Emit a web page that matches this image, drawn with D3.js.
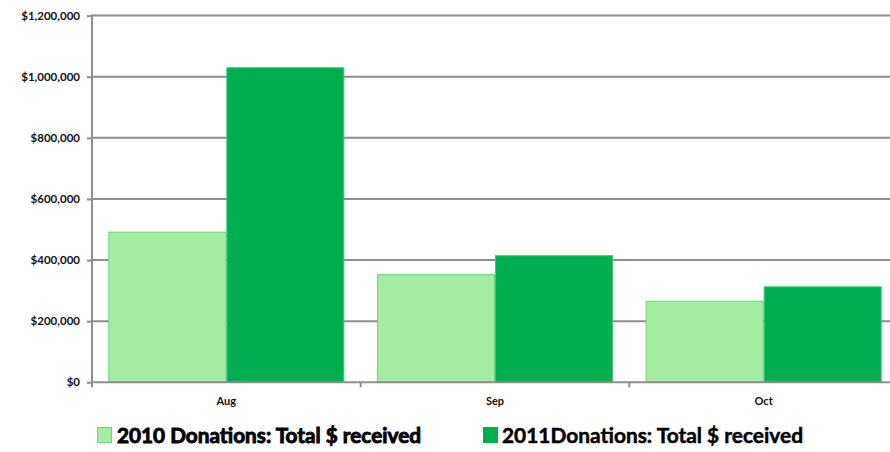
<!DOCTYPE html>
<html>
<head>
<meta charset="utf-8">
<script src="https://cdn.jsdelivr.net/npm/d3@7"></script>
<style>
  html, body { margin: 0; padding: 0; background: #ffffff; }
  svg { display: block; }
</style>
</head>
<body>
<svg id="chart" width="890" height="452"></svg>
<script>
// Monthly donation totals, 2010 vs 2011
const months = ["Aug", "Sep", "Oct"];
const donations2010 = [493000, 354000, 267000];
const donations2011 = [1031000, 416000, 314000];
const seriesNames = ["2010 Donations: Total $ received", "2011Donations: Total $ received"];
const yTickValues = [0, 200000, 400000, 600000, 800000, 1000000, 1200000];

const W = 890, H = 452;
const plot = { left: 92, right: 898, top: 15.6, bottom: 382.3 };
const colors = { light: "#a4eca1", lightEdge: "#6ed47f", dark: "#00ae4f", darkEdge: "#3cc778" };
const grey = "#8e8e8e";

const svg = d3.select("#chart");

const x = d3.scaleBand()
  .domain(months)
  .range([plot.left, plot.right])
  .paddingInner(0.1216)
  .paddingOuter(0.0608);

const xSeries = d3.scaleBand()
  .domain([0, 1])
  .range([0, x.bandwidth()]);

const y = d3.scaleLinear()
  .domain([0, 1200000])
  .range([plot.bottom, plot.top]);

const fmt = v => "$" + d3.format(",")(v);

// Horizontal gridlines (baseline is drawn as the x axis)
svg.append("g")
  .selectAll("line")
  .data(yTickValues.filter(v => v > 0))
  .join("line")
  .attr("x1", plot.left)
  .attr("x2", W)
  .attr("y1", d => y(d))
  .attr("y2", d => y(d))
  .attr("stroke", grey)
  .attr("stroke-width", 2);

// Bars
const rows = months.map((m, i) => ({ m, v: [donations2010[i], donations2011[i]] }));
const groups = svg.append("g")
  .selectAll("g")
  .data(rows)
  .join("g")
  .attr("transform", d => `translate(${x(d.m)},0)`);

groups.selectAll("rect")
  .data(d => d.v.map((v, s) => ({ v, s })))
  .join("rect")
  .attr("x", d => xSeries(d.s) + 0.5)
  .attr("width", xSeries.bandwidth() - 1)
  .attr("y", d => y(d.v) + 0.5)
  .attr("height", d => y(0) - y(d.v) - 0.5)
  .attr("fill", d => d.s === 0 ? colors.light : colors.dark)
  .attr("stroke", d => d.s === 0 ? colors.lightEdge : colors.darkEdge)
  .attr("stroke-width", 1);

// Y axis
const yAxis = d3.axisLeft(y)
  .tickValues(yTickValues)
  .tickFormat(fmt)
  .tickSize(5)
  .tickPadding(7);

const gy = svg.append("g")
  .attr("transform", `translate(${plot.left},0)`)
  .call(yAxis);
gy.select(".domain").remove();
gy.selectAll(".tick line").attr("stroke", grey).attr("stroke-width", 2);
gy.selectAll(".tick text")
  .attr("fill", "#111")
  .style("font-family", "Lato, 'Open Sans', sans-serif")
  .style("font-size", "11.5px")
  .style("font-weight", "bold");
svg.append("line")
  .attr("x1", plot.left).attr("x2", plot.left)
  .attr("y1", plot.top - 1).attr("y2", plot.bottom + 1)
  .attr("stroke", grey).attr("stroke-width", 2);

// X axis
svg.append("line")
  .attr("x1", plot.left).attr("x2", W)
  .attr("y1", plot.bottom).attr("y2", plot.bottom)
  .attr("stroke", grey).attr("stroke-width", 2);

const boundaries = months.map(m => x(m) - x.step() * x.paddingInner() / 2);
svg.append("g")
  .selectAll("line")
  .data(boundaries)
  .join("line")
  .attr("x1", d => d).attr("x2", d => d)
  .attr("y1", plot.bottom).attr("y2", plot.bottom + 5)
  .attr("stroke", grey).attr("stroke-width", 2);

svg.append("g")
  .selectAll("text")
  .data(months)
  .join("text")
  .attr("x", d => x(d) + x.bandwidth() / 2)
  .attr("y", 405)
  .attr("text-anchor", "middle")
  .attr("fill", "#111")
  .style("font-family", "Lato, 'Open Sans', sans-serif")
  .style("font-size", "11px")
  .style("font-weight", "bold")
  .text(d => d);

// Legend
const legendItems = [
  { name: seriesNames[0], fill: colors.light, edge: colors.lightEdge, sx: 97, tx: 117, tw: 304, stroke: 0.9 },
  { name: seriesNames[1], fill: colors.dark, edge: colors.dark, sx: 483, tx: 502, tw: 301, stroke: 0.5 }
];
const lg = svg.append("g")
  .selectAll("g")
  .data(legendItems)
  .join("g");
lg.append("rect")
  .attr("x", d => d.sx + 0.5)
  .attr("y", 427.5)
  .attr("width", 14)
  .attr("height", 15)
  .attr("fill", d => d.fill)
  .attr("stroke", d => d.edge);
lg.append("text")
  .attr("x", d => d.tx)
  .attr("y", 443)
  .attr("textLength", d => d.tw)
  .attr("lengthAdjust", "spacingAndGlyphs")
  .attr("fill", "#000")
  .attr("stroke", "#000")
  .attr("stroke-width", d => d.stroke)
  .style("font-family", "Lato, 'Open Sans', sans-serif")
  .style("font-size", "21px")
  .style("font-weight", "bold")
  .text(d => d.name);
</script>
</body>
</html>
